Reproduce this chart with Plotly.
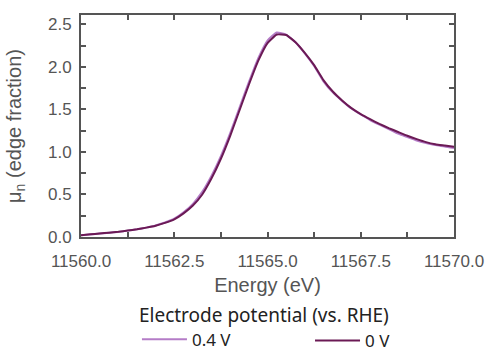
import plotly.graph_objects as go

# Normalised Se K-edge XANES spectra at two electrode potentials
energy_ev = [11560.0 + 0.25 * i for i in range(41)]

mu_04v = [0.020, 0.030, 0.040, 0.050, 0.060, 0.075, 0.090, 0.110, 0.135, 0.170,
          0.215, 0.290, 0.390, 0.530, 0.720, 0.950, 1.220, 1.520, 1.820, 2.100,
          2.310, 2.405, 2.380, 2.290, 2.160, 2.010, 1.830, 1.700, 1.600, 1.510,
          1.440, 1.375, 1.320, 1.270, 1.215, 1.175, 1.135, 1.105, 1.080, 1.065,
          1.045]

mu_0v = [0.022, 0.031, 0.041, 0.051, 0.062, 0.076, 0.091, 0.110, 0.133, 0.166,
         0.208, 0.278, 0.370, 0.500, 0.690, 0.920, 1.190, 1.490, 1.790, 2.070,
         2.280, 2.380, 2.375, 2.290, 2.165, 2.020, 1.845, 1.710, 1.605, 1.515,
         1.445, 1.385, 1.330, 1.280, 1.235, 1.190, 1.150, 1.115, 1.090, 1.075,
         1.060]

series_names = ["0.4 V", "0 V"]
series_colors = ["#b47cc7", "#6b1a55"]
series_legends = ["legend", "legend2"]

x_ticks = [11560.0, 11562.5, 11565.0, 11567.5, 11570.0]
y_ticks = [0.0, 0.5, 1.0, 1.5, 2.0, 2.5]

fig = go.Figure()
for name, ys, color, lg in zip(series_names, [mu_04v, mu_0v], series_colors, series_legends):
    fig.add_trace(go.Scatter(
        x=energy_ev, y=ys, mode="lines", name=name, legend=lg, showlegend=True,
        line=dict(color=color, width=2, shape="spline", smoothing=0.4),
    ))

axis_font = "Liberation Sans"
axis_common = dict(
    showline=True, linecolor="#555555", linewidth=2, mirror="allticks",
    ticks="inside", ticklen=5, tickwidth=1.5, tickcolor="#555555",
    showgrid=False, zeroline=False,
    tickfont=dict(family=axis_font, size=17, color="#555555"),
    title_font=dict(family=axis_font, size=20, color="#555555"),
)

fig.update_xaxes(
    **axis_common,
    range=[11560, 11570],
    tickvals=x_ticks, ticktext=[f"{v:.1f}" for v in x_ticks],
    minor=dict(dtick=1.25, tick0=11560, ticks="inside", ticklen=5,
               tickwidth=1.5, tickcolor="#555555"),
    ticklabelstandoff=8,
    title_text="Energy (eV)", title_standoff=8,
)
fig.update_yaxes(
    **axis_common,
    range=[0, 2.61],
    tickvals=y_ticks, ticktext=[f"{v:.1f}" for v in y_ticks],
    minor=dict(dtick=0.25, tick0=0, ticks="inside", ticklen=5,
               tickwidth=1.5, tickcolor="#555555"),
    ticklabelstandoff=4,
    title_text="μ<sub>n</sub> (edge fraction)", title_standoff=21,
)

legend_font = dict(family="Noto Sans", size=17, color="#222222")
fig.update_layout(
    width=488, height=350,
    margin=dict(l=81, r=34, t=15, b=113, autoexpand=False),
    plot_bgcolor="white", paper_bgcolor="white",
    showlegend=True,
    legend=dict(
        visible=True, bgcolor="rgba(0,0,0,0)",
        orientation="h", x=0.150, xanchor="left", y=-0.270, yanchor="top",
        title=dict(text="Electrode potential (vs. RHE)", side="top",
                   font=dict(family="Noto Sans", size=19, color="#222222")),
        font=legend_font, itemwidth=45,
    ),
    legend2=dict(
        visible=True, bgcolor="rgba(0,0,0,0)",
        orientation="h", x=0.614, xanchor="left", y=-0.387, yanchor="top",
        font=legend_font, itemwidth=45,
    ),
)

fig.write_html("out.html")
